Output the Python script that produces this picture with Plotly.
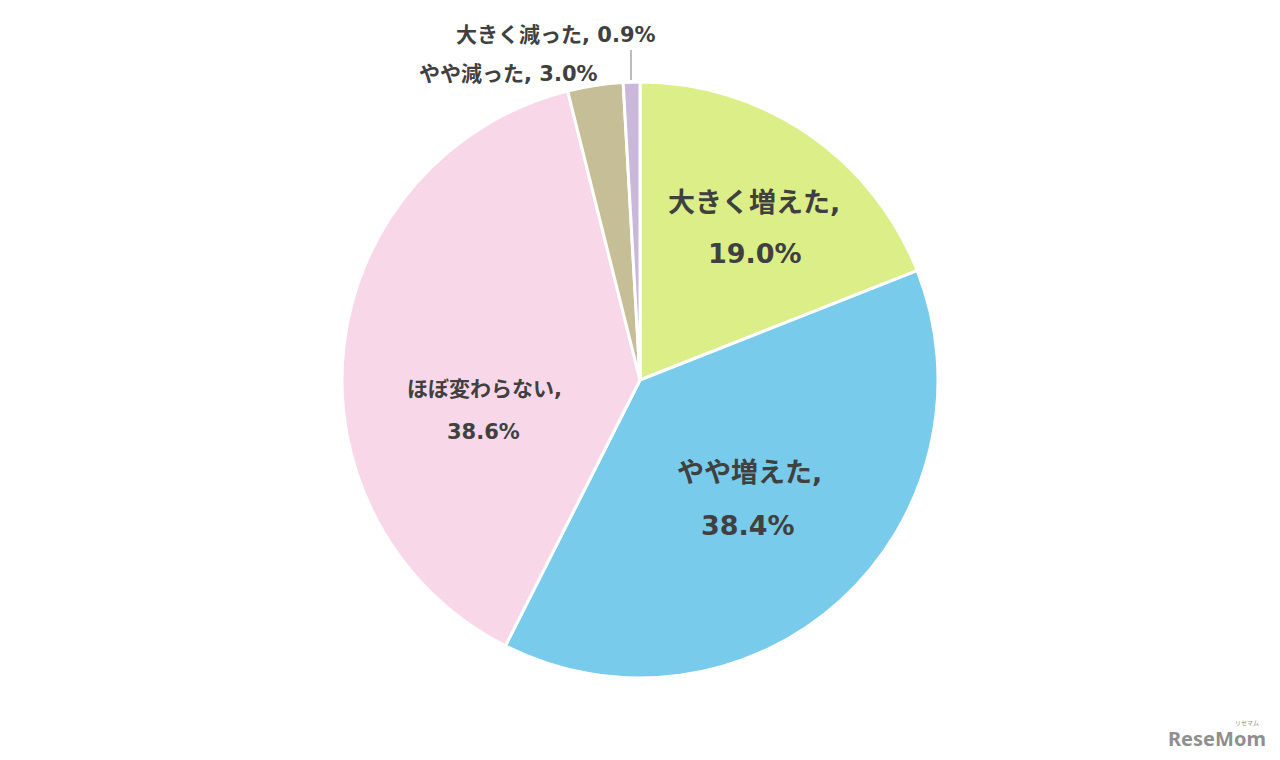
import plotly.graph_objects as go

W, H = 1280, 760
OFF = 8  # page body margin

labels = ["大きく増えた", "やや増えた", "ほぼ変わらない", "やや減った", "大きく減った"]
values = [19.0, 38.4, 38.6, 3.0, 0.9]
colors = ["#DCEE88", "#78CBEA", "#F8D8E8", "#C5BE97", "#C9B8DA"]

# pie geometry (pixels in the page)
cx, cy, r = 640, 380, 298

def px(x):
    return (x - OFF) / W

def py(y):
    return 1 - (y - OFF) / H

fig = go.Figure(go.Pie(
    labels=labels,
    values=values,
    sort=False,
    direction="clockwise",
    rotation=0,
    marker=dict(colors=colors, line=dict(color="white", width=3)),
    textinfo="none",
    hoverinfo="label+percent",
    showlegend=False,
    domain=dict(x=[px(cx - r), px(cx + r)], y=[py(cy + r), py(cy - r)]),
))

txt_color = "#404040"
font_family = "DejaVu Sans, Noto Sans CJK JP"

# label placements: (index, x1, y1, x2, y2, size)
inside = [
    (0, 754, 202, 755, 253, 27),
    (1, 749, 472, 748, 525, 27),
    (2, 484, 389, 483, 432, 21),
]
annotations = []

def ann(x, y, text, size, family=font_family, color=txt_color):
    return dict(x=px(x), y=py(y), xref="paper", yref="paper",
                xanchor="center", yanchor="middle",
                text=text, showarrow=False,
                font=dict(size=size, color=color, family=family))

for i, x1, y1, x2, y2, s in inside:
    annotations.append(ann(x1, y1, f"<b>{labels[i]},</b>", s))
    annotations.append(ann(x2, y2, f"<b>{values[i]:.1f}%</b>", s))

outside = [
    (3, 508, 74, 21),
    (4, 556, 35, 21),
]
for i, x, y, s in outside:
    annotations.append(ann(x, y, f"<b>{labels[i]}, {values[i]:.1f}%</b>", s))

# watermark
annotations.append(ann(1217, 738, "<b>ReseMom</b>", 20, family="Noto Sans", color="#8f8f8f"))
annotations.append(ann(1247, 722, "リセマム", 6, family="Noto Sans CJK JP", color="#8f8f8f"))

fig.update_layout(
    width=W, height=H,
    margin=dict(l=0, r=0, t=0, b=0),
    paper_bgcolor="white",
    plot_bgcolor="white",
    annotations=annotations,
    shapes=[dict(type="line", xref="paper", yref="paper",
                 x0=px(631), x1=px(631), y0=py(50), y1=py(80),
                 line=dict(color="#A6A6A6", width=1.5))],
)

fig.write_html("out.html")
